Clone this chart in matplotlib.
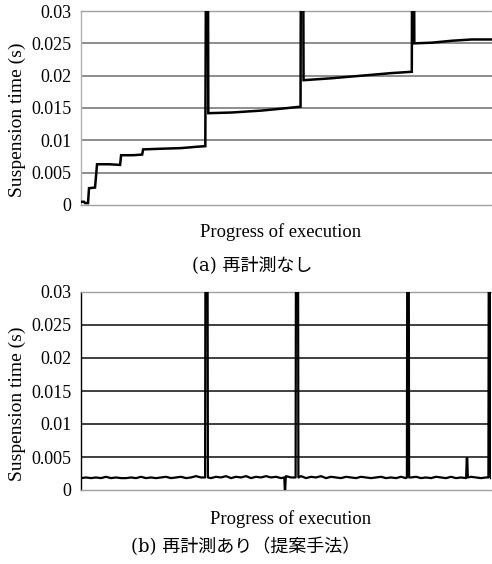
import matplotlib
matplotlib.use('Agg')
import matplotlib.pyplot as plt

# (a) without re-measurement: progress (px-like units) vs suspension time
top_x = [0, 3, 4, 7, 8, 14, 16, 28, 39, 40, 52, 61, 62, 80, 100, 115, 124,
         125, 126.5, 127, 150, 180, 200, 219,
         219.5, 221.5, 222, 250, 280, 310, 330,
         330.5, 332, 332.5, 350, 370, 390, 410]
top_y = [0.0005, 0.0005, 0.0003, 0.0003, 0.0026, 0.0027, 0.0063, 0.0063, 0.0062, 0.0077, 0.0077, 0.0078, 0.0086, 0.0087, 0.0088, 0.0090, 0.0091,
         0.05, 0.05, 0.0142, 0.0143, 0.0146, 0.0149, 0.0152,
         0.05, 0.05, 0.0193, 0.0196, 0.0200, 0.0204, 0.0206,
         0.05, 0.05, 0.0250, 0.0251, 0.0254, 0.0256, 0.0256]

# (b) with re-measurement (proposed): baseline samples every 5 units
base_y = [0.0018, 0.0019, 0.0018, 0.0019, 0.0018, 0.0020, 0.0018, 0.0019, 0.0018, 0.0018,
          0.0019, 0.0018, 0.0020, 0.0018, 0.0019, 0.0018, 0.0019, 0.0020, 0.0018, 0.0019,
          0.0020, 0.0018, 0.0019, 0.0021, 0.0019, 0.0020, 0.0018, 0.0020, 0.0019, 0.0021,
          0.0018, 0.0020, 0.0019, 0.0021, 0.0018, 0.0020, 0.0019, 0.0021, 0.0019, 0.0020,
          0.0018, 0.0021, 0.0019, 0.0020, 0.0021, 0.0018, 0.0020, 0.0019, 0.0021, 0.0018,
          0.0020, 0.0019, 0.0018, 0.0020, 0.0019, 0.0018, 0.0020, 0.0019, 0.0018, 0.0019,
          0.0020, 0.0018, 0.0019, 0.0018, 0.0020, 0.0018, 0.0019, 0.0020, 0.0018, 0.0019,
          0.0018, 0.0020, 0.0019, 0.0018, 0.0020, 0.0018, 0.0019, 0.0018, 0.0020, 0.0019,
          0.0018, 0.0019, 0.0018]
base_step = 5
# events: (position, peak value, half width)
spike_pos = [125.5, 204, 216, 327, 386, 408.5]
spike_val = [0.05, 0.0, 0.05, 0.05, 0.0048, 0.05]
spike_half = [0.9, 0.2, 0.9, 0.6, 0.3, 0.6]

yticks = [0, 0.005, 0.01, 0.015, 0.02, 0.025, 0.03]
ytick_labels = ['0', '0.005', '0.01', '0.015', '0.02', '0.025', '0.03']

serif = 'Liberation Serif'
cap_fam = ['DejaVu Serif', 'Noto Sans CJK JP']

fig = plt.figure(figsize=(4.92, 5.64), dpi=100)


def style_axes(ax, grid_color, left_color):
    ax.set_xlim(0, 410)
    ax.set_ylim(0, 0.03)
    ax.set_yticks(yticks)
    ax.set_yticklabels(ytick_labels, fontname=serif, fontsize=13)
    ax.set_xticks([])
    ax.tick_params(axis='y', length=0, pad=7)
    for y in yticks[1:-1]:
        ax.axhline(y, color=grid_color, lw=1.3, zorder=1)
    for s in ['top', 'bottom']:
        ax.spines[s].set_color('#a0a0a0')
        ax.spines[s].set_linestyle((0, (1, 1)))
        ax.spines[s].set_linewidth(1.0)
    ax.spines['right'].set_visible(False)
    ax.spines['left'].set_color(left_color)
    ax.spines['left'].set_linewidth(1.0)


# top panel
ax1 = fig.add_axes([81 / 492, 1 - 205 / 564, 411 / 492, 194 / 564])
style_axes(ax1, '#858585', '#b0b0b0')
ax1.plot(top_x, top_y, color='black', lw=1.8, zorder=3, solid_joinstyle='miter')
fig.text(280 / 492, 1 - 232 / 564, 'Progress of execution', fontname=serif,
         fontsize=13.3, ha='center', va='center')
fig.text(17 / 492, 1 - 120 / 564, 'Suspension time (s)', fontname=serif,
         fontsize=14, ha='center', va='center', rotation=90)
fig.text(252 / 492, 1 - 265 / 564, '(a) 再計測なし', family=cap_fam,
         fontsize=13, ha='center', va='center')

# bottom panel: merge baseline and events
pts = [(i * base_step, v) for i, v in enumerate(base_y)]
for p, v, h in zip(spike_pos, spike_val, spike_half):
    pts = [q for q in pts if not (p - h - 0.5 <= q[0] <= p + h + 0.5)]
    pts += [(p - h - 0.5, 0.0019), (p - h, v), (p + h, v), (p + h + 0.5, 0.0019)]
pts.sort()
bx = [q[0] for q in pts]
by = [q[1] for q in pts]

ax2 = fig.add_axes([81 / 492, 1 - 490 / 564, 410 / 492, 198 / 564])
style_axes(ax2, '#303030', 'black')
ax2.plot(bx, by, color='black', lw=1.6, zorder=3)
fig.text(290 / 492, 1 - 519 / 564, 'Progress of execution', fontname=serif,
         fontsize=13.3, ha='center', va='center')
fig.text(17 / 492, 1 - 404 / 564, 'Suspension time (s)', fontname=serif,
         fontsize=14, ha='center', va='center', rotation=90)
fig.text(246 / 492, 1 - 547 / 564, '(b) 再計測あり（提案手法）', family=cap_fam,
         fontsize=13, ha='center', va='center')

fig.savefig('out.png', dpi=100)
